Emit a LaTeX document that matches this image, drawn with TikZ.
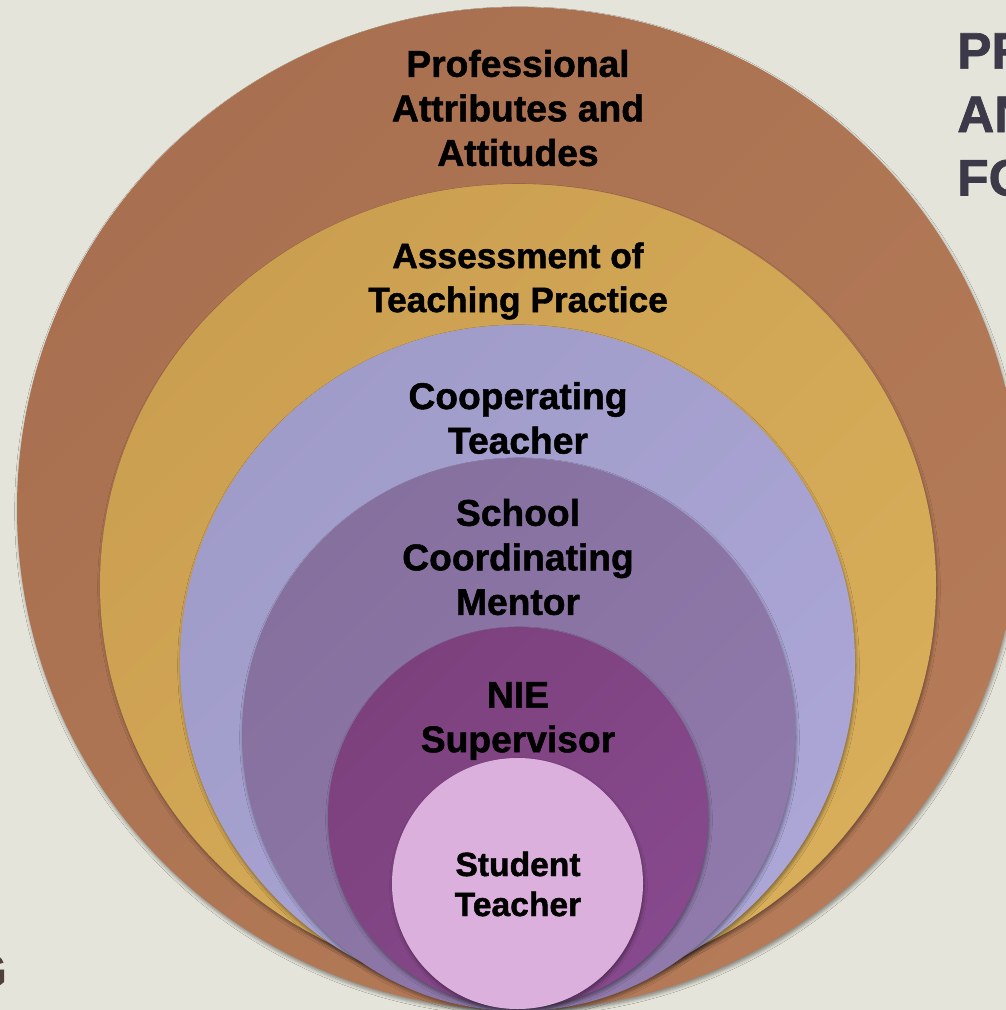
\documentclass[tikz,border=0pt]{standalone}
\usepackage{fontspec}
\setmainfont{Liberation Sans}[BoldFeatures={FakeBold=1.3}]
\usepackage{tikz}
\usetikzlibrary{shadows.blur}

\tikzset{
  ring/.style={draw=none, blur shadow={shadow xshift=0.75pt, shadow yshift=-2.25pt, shadow blur radius=2.5pt, shadow opacity=40}},
  ringtext/.style={inner sep=0.75pt, align=center, font=\bfseries\fontsize{27.9}{33.4}\selectfont},
}

\begin{document}
\begin{tikzpicture}[x=0.75pt,y=0.75pt,yscale=-1,xscale=1]
%set diagram size: 1006 x 1010
\fill [color={rgb, 255:red, 228; green, 228; blue, 218 }] (0,0) rectangle (1006,1010) ;
\useasboundingbox (0,0) rectangle (1006,1010) ;

%Shape: Circle (outer ring)
\draw [ring, top color={rgb, 255:red, 168; green, 112; blue, 80 }, bottom color={rgb, 255:red, 181; green, 123; blue, 88 }, shading angle=45] (518.5,508.5) circle (501.5) ;
%Shape: Ellipse
\draw [ring, top color={rgb, 255:red, 203; green, 159; blue, 80 }, bottom color={rgb, 255:red, 216; green, 174; blue, 90 }, shading angle=45] (518,585) ellipse (418 and 401) ;
%Shape: Circle
\draw [ring, top color={rgb, 255:red, 160; green, 156; blue, 201 }, bottom color={rgb, 255:red, 171; green, 166; blue, 214 }, shading angle=45] (517.5,662.5) circle (337.5) ;
%Shape: Circle
\draw [ring, top color={rgb, 255:red, 133; green, 112; blue, 158 }, bottom color={rgb, 255:red, 144; green, 122; blue, 172 }, shading angle=45] (518.5,734.5) circle (276.5) ;
%Shape: Circle
\draw [ring, top color={rgb, 255:red, 124; green, 65; blue, 125 }, bottom color={rgb, 255:red, 135; green, 73; blue, 141 }, shading angle=45] (518,817) circle (190) ;
%Shape: Circle (centre)
\draw [ring, fill={rgb, 255:red, 220; green, 176; blue, 220 }] (517.5,883.5) circle (125.5) ;

% Text Node
\draw (518,108) node (prof) [ringtext] {Professional\\Attributes and\\Attitudes};
% Text Node
\draw (518,281) node (assess) [ringtext, font=\bfseries\fontsize{26.5}{33}\selectfont] {Assessment of\\Teaching Practice};
% Text Node
\draw (518,418) node (coop) [ringtext] {Cooperating\\Teacher};
% Text Node
\draw (518,557) node (mentor) [ringtext] {School\\Coordinating\\Mentor};
% Text Node
\draw (518,721) node (nie) [ringtext] {NIE\\Supervisor};
% Text Node
\draw (518,884) node (student) [ringtext, font=\bfseries\fontsize{25.2}{30}\selectfont] {Student\\Teacher};

% Text Node
\draw (956,32) node (heading) [anchor=north west][inner sep=0.75pt] [align=left, text={rgb, 255:red, 60; green, 58; blue, 72 }, font=\bfseries\fontsize{38.5}{47.6}\selectfont] {PR\\AN\\FO};
% Text Node
\draw (8,987) node (sidenote) [anchor=base east][inner sep=0.75pt] [text={rgb, 255:red, 80; green, 64; blue, 58 }, font=\bfseries\fontsize{35.5}{40}\selectfont] {G};

\end{tikzpicture}
\end{document}
